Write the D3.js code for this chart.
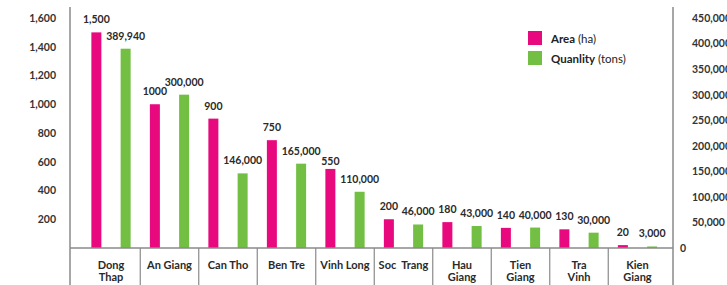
<!DOCTYPE html>
<html>
<head>
<meta charset="utf-8">
<script src="https://cdn.jsdelivr.net/npm/d3@7/dist/d3.min.js"></script>
<style>
  body { margin: 0; background: #fff; }
  text { font-family: Lato, 'Open Sans', sans-serif; }
</style>
</head>
<body>
<svg id="chart" width="727" height="285"></svg>
<script>
const categories = ['Dong Thap', 'An Giang', 'Can Tho', 'Ben Tre', 'Vinh Long', 'Soc Trang', 'Hau Giang', 'Tien Giang', 'Tra Vinh', 'Kien Giang'];
const categoryLines = [['Dong', 'Thap'], ['An Giang'], ['Can Tho'], ['Ben Tre'], ['Vinh Long'], ['Soc  Trang'], ['Hau', 'Giang'], ['Tien', 'Giang'], ['Tra', 'Vinh'], ['Kien', 'Giang']];
const area = [1500, 1000, 900, 750, 550, 200, 180, 140, 130, 20];
const quantity = [389940, 300000, 146000, 165000, 110000, 46000, 43000, 40000, 30000, 3000];
const areaLabels = ['1,500', '1000', '900', '750', '550', '200', '180', '140', '130', '20'];
const quantityLabels = ['389,940', '300,000', '146,000', '165,000', '110,000', '46,000', '43,000', '40,000', '30,000', '3,000'];
const leftTicks = [200, 400, 600, 800, 1000, 1200, 1400, 1600];
const rightTicks = [0, 50000, 100000, 150000, 200000, 250000, 300000, 350000, 400000, 450000];

const pink = '#e8097e';
const green = '#72bf44';
const axisColor = '#8a8a8a';

const svg = d3.select('#chart');
const plotLeft = 70, plotRight = 673, base = 248, plotTop = 18;

const x0 = d3.scaleBand().domain(categories).range([81.75, 666.75]);
const x1 = d3.scaleBand().domain(['area', 'quantity']).range([0, x0.bandwidth()])
  .paddingInner(0.658).paddingOuter(0.329);
const yLeft = d3.scaleLinear().domain([0, 1600]).range([base, plotTop]);
const yRight = d3.scaleLinear().domain([0, 450000]).range([base, plotTop]);

const rows = categories.map((c, i) => ({
  c, lines: categoryLines[i],
  area: area[i], quantity: quantity[i],
  areaLabel: areaLabels[i], quantityLabel: quantityLabels[i]
}));

// bars
const g = svg.append('g');
const groups = g.selectAll('g.cat').data(rows).enter().append('g')
  .attr('class', 'cat')
  .attr('transform', d => `translate(${x0(d.c)},0)`);

groups.append('rect')
  .attr('x', x1('area'))
  .attr('width', x1.bandwidth())
  .attr('y', d => yLeft(d.area))
  .attr('height', d => base - yLeft(d.area))
  .attr('fill', pink);

groups.append('rect')
  .attr('x', x1('quantity'))
  .attr('width', x1.bandwidth())
  .attr('y', d => yRight(d.quantity))
  .attr('height', d => base - yRight(d.quantity))
  .attr('fill', green);

// value labels
const areaText = groups.append('text')
  .attr('x', x1('area') + x1.bandwidth() / 2)
  .attr('y', d => yLeft(d.area) - 9)
  .attr('text-anchor', 'middle')
  .attr('font-size', 10.5).attr('font-weight', 700).attr('fill', '#2a2a2a')
  .text(d => d.areaLabel);

const qtyText = groups.append('text')
  .attr('x', x1('quantity') + x1.bandwidth() / 2)
  .attr('y', d => yRight(d.quantity) - 9)
  .attr('text-anchor', 'middle')
  .attr('font-size', 10.5).attr('font-weight', 700).attr('fill', '#2a2a2a')
  .text(d => d.quantityLabel);

// when an area label sits right against the previous quantity label, drop it toward its bar
const qNodes = qtyText.nodes();
areaText.each(function (d, i) {
  if (i === 0) return;
  const a = this.getBoundingClientRect();
  const q = qNodes[i - 1].getBoundingClientRect();
  if (a.left < q.right + 3 && Math.abs(a.top - q.top) < 12) {
    d3.select(this).attr('y', yLeft(d.area) - 4);
  }
});

// category labels
groups.each(function (d) {
  const t = d3.select(this).append('text')
    .attr('x', x0.bandwidth() / 2)
    .attr('text-anchor', 'middle')
    .attr('font-size', 11).attr('font-weight', 700).attr('fill', '#2a2a2a')
    .style('white-space', 'pre');
  d.lines.forEach((line, j) => {
    t.append('tspan').attr('x', x0.bandwidth() / 2).attr('y', 269 + j * 12).text(line);
  });
});

// axes
const leftAxis = svg.append('g')
  .attr('transform', `translate(${plotLeft},0)`)
  .call(d3.axisLeft(yLeft).tickValues(leftTicks).tickSize(0).tickPadding(14).tickFormat(d3.format(',')));
leftAxis.select('.domain').remove();
leftAxis.selectAll('text').attr('font-size', 10.5).attr('font-weight', 700).attr('fill', '#333')
  .style('font-family', 'Lato, sans-serif');

const rightAxis = svg.append('g')
  .attr('transform', `translate(${plotRight},0)`)
  .call(d3.axisRight(yRight).tickValues(rightTicks).tickSize(0).tickPadding(19).tickFormat(d3.format(',')));
rightAxis.select('.domain').remove();
rightAxis.selectAll('text').attr('font-size', 10.5).attr('font-weight', 700).attr('fill', '#333')
  .style('font-family', 'Lato, sans-serif');
rightAxis.selectAll('.tick').filter(d => d === 0).select('text').attr('x', 7);

// frame lines
svg.append('line').attr('x1', plotLeft).attr('x2', plotLeft).attr('y1', 7).attr('y2', 285)
  .attr('stroke', axisColor).attr('stroke-width', 1.5);
svg.append('line').attr('x1', plotRight).attr('x2', plotRight).attr('y1', 7).attr('y2', 285)
  .attr('stroke', axisColor).attr('stroke-width', 1.5);
svg.append('line').attr('x1', plotLeft).attr('x2', plotRight).attr('y1', base).attr('y2', base)
  .attr('stroke', axisColor).attr('stroke-width', 1.5);

// separators between category cells
svg.selectAll('line.sep').data(categories.slice(1)).enter().append('line')
  .attr('class', 'sep')
  .attr('x1', d => x0(d)).attr('x2', d => x0(d))
  .attr('y1', base).attr('y2', 285)
  .attr('stroke', axisColor).attr('stroke-width', 1.2);

// legend
const legendItems = [
  { color: pink, bold: 'Area', rest: ' (ha)' },
  { color: green, bold: 'Quanlity', rest: ' (tons)' }
];
const legend = svg.append('g').attr('transform', 'translate(528,31)');
const li = legend.selectAll('g').data(legendItems).enter().append('g')
  .attr('transform', (d, i) => `translate(0,${i * 20})`);
li.append('rect').attr('width', 14).attr('height', 14).attr('fill', d => d.color);
const lt = li.append('text').attr('x', 23).attr('y', 11.5)
  .attr('font-size', 11.5).attr('fill', '#222');
lt.append('tspan').attr('font-weight', 700).text(d => d.bold);
lt.append('tspan').attr('font-weight', 400).text(d => d.rest);
</script>
</body>
</html>
